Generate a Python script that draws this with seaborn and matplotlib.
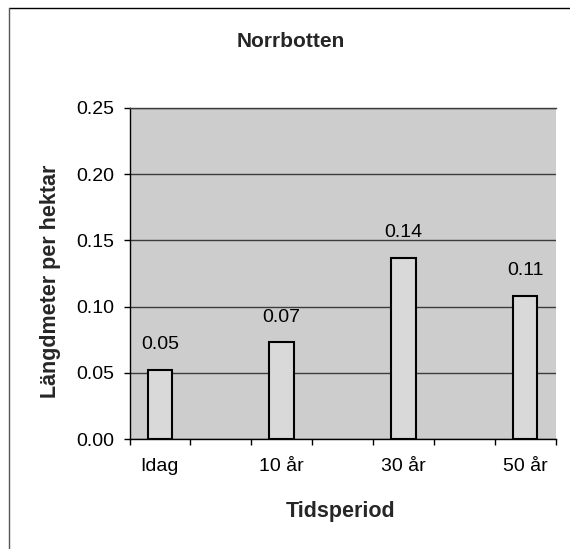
import matplotlib
matplotlib.use("Agg")
import matplotlib.pyplot as plt
import seaborn as sns
import pandas as pd
import numpy as np

# ---- data ----
title = "Norrbotten"
x_label = "Tidsperiod"
y_label = "Längdmeter per hektar"
categories = ["Idag", "10 år", "30 år", "50 år"]
values = [0.052, 0.073, 0.137, 0.108]
value_labels = ["0.05", "0.07", "0.14", "0.11"]
# Excel layout: empty category slots between the periods
slots = ["Idag", "_gap1", "10 år", "_gap2", "30 år", "_gap3", "50 år"]
y_ticks = [0.00, 0.05, 0.10, 0.15, 0.20, 0.25]
y_tick_labels = ["0.00", "0.05", "0.10", "0.15", "0.20", "0.25"]

sns.set_theme(style="white")
plt.rcParams["font.family"] = ["Liberation Sans", "DejaVu Sans"]

W, H = 570, 549
fig = plt.figure(figsize=(W / 100, H / 100), dpi=100)
fig.patch.set_facecolor("white")

L, R, T, B = 129.5, 555.5, 108, 439
ax = fig.add_axes([L / W, 1 - B / H, (R - L) / W, (B - T) / H])
ax.set_facecolor("#cdcdcd")

df = pd.DataFrame({"period": categories, "value": values})
sns.barplot(data=df, x="period", y="value", order=slots, color="#d9d9d9",
            saturation=1, width=0.4, edgecolor="black", linewidth=1.5,
            errorbar=None, ax=ax, zorder=3)

ax.bar_label(ax.containers[0], labels=value_labels, padding=12, fontsize=14,
             color="black")

ax.set_ylim(y_ticks[0], y_ticks[-1])
ax.set_xlim(-0.5, len(slots) - 0.5)
ax.set_yticks(y_ticks)
ax.set_yticklabels(y_tick_labels, fontsize=14, color="black")
ax.tick_params(axis="y", direction="out", length=4, width=1, pad=7,
               colors="black", left=True)

# boundary tick marks between slots, labels at category centres
ax.set_xticks(np.arange(-0.5, len(slots), 1))
ax.set_xticklabels([])
ax.tick_params(axis="x", which="major", direction="out", length=4, width=1,
               colors="black", bottom=True)
pos = [slots.index(c) for c in categories]
ax.set_xticks(pos, minor=True)
ax.set_xticklabels(categories, minor=True, fontsize=14, color="black")
ax.tick_params(axis="x", which="minor", length=0, pad=14, bottom=True)

ax.yaxis.grid(True, color="#3c3c3c", linewidth=1)
ax.set_axisbelow(True)
ax.set_xlabel("")
ax.set_ylabel("")

for s in ["left", "bottom"]:
    ax.spines[s].set_visible(True)
    ax.spines[s].set_color("black")
    ax.spines[s].set_linewidth(1)
ax.spines["top"].set_visible(True)
ax.spines["top"].set_color("#3c3c3c")
ax.spines["top"].set_linewidth(1)
ax.spines["right"].set_visible(False)

# titles
fig.text(291 / W, 1 - 47 / H, title, ha="center", va="baseline",
         fontsize=15, fontweight="bold")
fig.text(341 / W, 1 - 517 / H, x_label, ha="center", va="baseline",
         fontsize=15.5, fontweight="bold")
fig.text(56 / W, 1 - 281 / H, y_label, ha="center", va="baseline",
         rotation=90, rotation_mode="anchor", fontsize=15.5, fontweight="bold")

# outer chart border (top and left visible)
fig.add_artist(plt.Line2D([9 / W, 1], [1 - 8 / H, 1 - 8 / H], color="black",
                          lw=1, transform=fig.transFigure))
fig.add_artist(plt.Line2D([9 / W, 9 / W], [0, 1 - 8 / H], color="#555555",
                          lw=1, transform=fig.transFigure))

fig.savefig("out.png", dpi=100)
